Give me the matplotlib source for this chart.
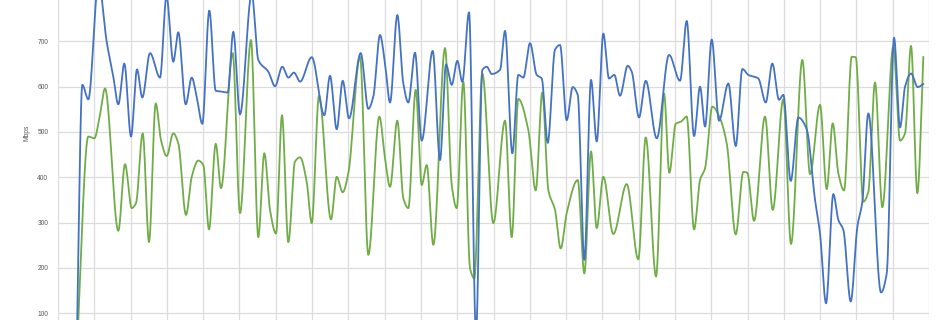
import numpy as np
import matplotlib
matplotlib.use("Agg")
import matplotlib.pyplot as plt

# time of day (hours) and throughput (Mbps)
blue_t = [0.51, 0.670, 0.835, 1.116, 1.342, 1.524, 1.662, 1.827, 2.012, 2.177, 2.323, 2.535, 2.811,
          2.990, 3.177, 3.315, 3.519, 3.684, 3.822, 3.976, 4.169, 4.346, 4.511, 4.676, 4.830, 5.015,
          5.338, 5.519, 5.795, 5.980, 6.181, 6.346, 6.503, 6.669, 6.991, 7.338, 7.495, 7.680, 7.845,
          8.019, 8.341, 8.551, 8.688, 8.873, 9.011, 9.149, 9.350, 9.515, 9.653, 9.837, 10.022, 10.325,
          10.526, 10.692, 10.849, 11.003, 11.141, 11.326, 11.518, 11.692, 11.813, 11.951, 12.180,
          12.318, 12.519, 12.684, 12.822, 13.006, 13.191, 13.329, 13.494, 13.695, 13.833, 14.017,
          14.183, 14.321, 14.503, 14.687, 14.844, 15.026, 15.183, 15.329, 15.486, 15.698, 15.809,
          16.010, 16.195, 16.498, 16.837, 17.140, 17.324, 17.526, 17.691, 17.829, 18.013, 18.214,
          18.471, 18.675, 18.857, 19.022, 19.297, 19.501, 19.683, 19.868, 19.986, 20.190, 20.400,
          20.631, 20.860, 20.997, 21.163, 21.364, 21.502, 21.640, 21.843, 22.026, 22.163, 22.328,
          22.678, 22.835, 23.037, 23.202, 23.340, 23.505, 23.689, 23.844]
blue_v = [0, 604, 572, 830, 699, 622, 561, 651, 490, 638, 576, 674, 620,
          800, 655, 720, 561, 620, 578, 518, 768, 591, 589, 587, 721, 539,
          805, 659, 633, 601, 644, 620, 631, 611, 665, 537, 624, 506, 613,
          530, 674, 551, 578, 714, 651, 565, 758, 607, 565, 675, 481, 679,
          438, 649, 604, 657, 611, 764, 55, 637, 644, 628, 637,
          723, 453, 626, 620, 696, 626, 618, 476, 682, 692, 526,
          599, 582, 218, 615, 479, 717, 618, 626, 580, 646, 633,
          532, 613, 486, 670, 613, 745, 491, 600, 512, 704, 525,
          607, 469, 639, 626, 618, 565, 651, 571, 582, 392, 532,
          506, 350, 276, 122, 363, 306, 284, 126, 291, 346, 541,
          146, 188, 708, 510, 600, 629, 599, 606]

green_t = [0.51, 0.835, 1.000, 1.157, 1.295, 1.662, 1.846, 2.031, 2.149, 2.334, 2.508, 2.692, 2.838,
           2.995, 3.177, 3.315, 3.527, 3.684, 3.866, 4.004, 4.161, 4.346, 4.492, 4.814, 5.015, 5.318,
           5.519, 5.685, 5.842, 6.007, 6.172, 6.346, 6.531, 6.669, 6.853, 6.991, 7.192, 7.523, 7.680,
           7.845, 7.999, 8.322, 8.551, 8.854, 9.011, 9.149, 9.350, 9.515, 9.653, 9.857, 10.022, 10.160,
           10.342, 10.664, 10.849, 10.986, 11.168, 11.353, 11.471, 11.692, 11.995, 12.318, 12.502,
           12.684, 12.960, 13.163, 13.345, 13.511, 13.695, 13.852, 14.017, 14.321, 14.503, 14.687,
           14.844, 15.026, 15.302, 15.670, 15.990, 16.195, 16.479, 16.699, 16.845, 17.021, 17.167,
           17.324, 17.526, 17.691, 17.829, 18.030, 18.242, 18.426, 18.675, 18.884, 18.994, 19.179,
           19.482, 19.694, 19.986, 20.198, 20.510, 20.722, 20.997, 21.182, 21.347, 21.502, 21.659,
           21.871, 21.981, 22.190, 22.328, 22.513, 22.714, 23.017, 23.202, 23.340, 23.505, 23.679,
           23.844]
green_v = [0, 490, 486, 538, 596, 282, 429, 332, 343, 497, 257, 563, 482,
           447, 497, 475, 317, 401, 437, 427, 285, 474, 376, 674, 321, 703,
           268, 453, 328, 276, 537, 257, 435, 444, 390, 299, 580, 307, 401,
           367, 409, 666, 229, 534, 442, 379, 525, 354, 332, 593, 383, 427,
           251, 685, 383, 332, 611, 199, 177, 629, 299, 525, 268,
           573, 504, 371, 587, 372, 328, 243, 321, 394, 188, 457,
           288, 401, 275, 385, 219, 488, 181, 585, 410, 518, 523,
           534, 285, 394, 420, 556, 530, 475, 274, 412, 410, 304,
           534, 328, 572, 253, 659, 407, 560, 374, 519, 409, 371,
           666, 665, 346, 368, 609, 334, 688, 481, 497, 690, 365,
           666]

y_ticks = [100, 200, 300, 400, 500, 600, 700]
y_label = "Mbps"


def pchip(x, y, xs):
    x = np.asarray(x, float)
    y = np.asarray(y, float)
    h = np.diff(x)
    d = np.diff(y) / h
    n = len(x)
    m = np.zeros(n)
    for k in range(1, n - 1):
        if d[k - 1] * d[k] <= 0:
            m[k] = 0.0
        else:
            w1 = 2 * h[k] + h[k - 1]
            w2 = h[k] + 2 * h[k - 1]
            m[k] = (w1 + w2) / (w1 / d[k - 1] + w2 / d[k])
    m[0] = d[0]
    m[-1] = d[-1]
    idx = np.clip(np.searchsorted(x, xs) - 1, 0, n - 2)
    hk = h[idx]
    t = (xs - x[idx]) / hk
    h00 = 2 * t**3 - 3 * t**2 + 1
    h10 = t**3 - 2 * t**2 + t
    h01 = -2 * t**3 + 3 * t**2
    h11 = t**3 - t**2
    return h00 * y[idx] + h10 * hk * m[idx] + h01 * y[idx + 1] + h11 * hk * m[idx + 1]


W, H = 950, 320
fig = plt.figure(figsize=(W / 100, H / 100), dpi=100)
left, right = 58, 929
ax = fig.add_axes([left / W, 0, (right - left) / W, 1])
ax.set_xlim(0, 24)
ax.set_ylim(85.2, 791.2)

for s in ax.spines.values():
    s.set_visible(False)
ax.set_xticks(np.arange(0, 25, 1))
ax.set_yticks(y_ticks)
ax.grid(True, color="#DCDCDC", linewidth=0.9)
ax.set_axisbelow(True)
ax.tick_params(axis="both", length=0)
ax.tick_params(axis="x", labelbottom=False)
ax.tick_params(axis="y", labelsize=4.8, labelcolor="#595959", pad=7)
for lab in ax.get_yticklabels():
    lab.set_fontfamily("Liberation Sans")

for t, v, c in [(green_t, green_v, "#70AD47"), (blue_t, blue_v, "#4472C4")]:
    xs = np.linspace(t[0], t[-1], 6000)
    ax.plot(xs, pchip(t, v, xs), color=c, linewidth=1.3, solid_capstyle="round")

fig.text(27 / W, 1 - 133 / H, y_label, rotation=90, ha="center", va="center",
         fontsize=4.8, color="#595959", family="Liberation Sans")

fig.savefig("out.png", dpi=100, facecolor="white")
